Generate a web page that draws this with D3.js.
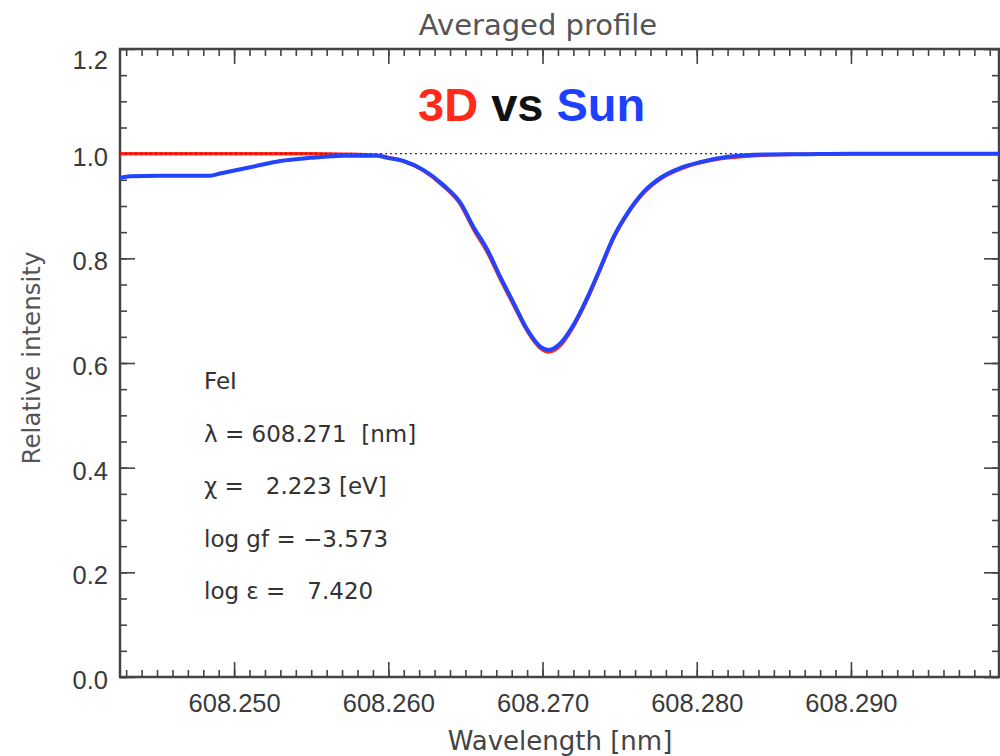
<!DOCTYPE html>
<html>
<head>
<meta charset="utf-8">
<script src="https://cdn.jsdelivr.net/npm/d3@7"></script>
<style>
  body { margin: 0; background: #fff; }
</style>
</head>
<body>
<script>

const w = 1000;
const h = 756;

// wavelength grid [nm]
const wavelength = [608.24260, 608.24325, 608.24519, 608.24844, 608.24909, 608.25104, 608.25299,
    608.25494, 608.25708, 608.25929, 608.25994, 608.26097, 608.26227, 608.26357, 608.26468,
    608.26552, 608.26643, 608.26727, 608.26812, 608.26903, 608.26987, 608.27039, 608.27117,
    608.27201, 608.27292, 608.27377, 608.27461, 608.27552, 608.27656, 608.27766, 608.27896,
    608.28026, 608.28201, 608.28370, 608.28675, 608.29000, 608.29968];

// observed solar profile (blue)
const sun = [0.954, 0.957, 0.958, 0.958, 0.962, 0.974, 0.986, 0.992, 0.996, 0.996, 0.992, 0.986,
    0.969, 0.940, 0.906, 0.860, 0.816, 0.764, 0.715, 0.663, 0.631, 0.625, 0.638, 0.673, 0.726,
    0.783, 0.841, 0.887, 0.927, 0.954, 0.973, 0.984, 0.994, 0.998, 0.999, 1.000, 1.000];

// 3D model profile (red)
const model3d = [1.000, 1.000, 1.000, 1.000, 1.000, 1.000, 1.000, 1.000, 0.999, 0.997, 0.993, 0.986,
    0.968, 0.938, 0.903, 0.856, 0.811, 0.760, 0.711, 0.660, 0.628, 0.621, 0.634, 0.670, 0.723,
    0.781, 0.839, 0.885, 0.925, 0.952, 0.971, 0.983, 0.992, 0.996, 0.999, 1.000, 1.000];

const xMajor = [608.250, 608.260, 608.270, 608.280, 608.290];
const yMajor = [0.0, 0.2, 0.4, 0.6, 0.8, 1.0, 1.2];

const lineInfo = ["FeI", "λ = 608.271  [nm]", "χ =   2.223 [eV]", "log gf = −3.573", "log ε =   7.420"];

const xDomain = [608.2426, 608.2996];
const yDomain = [0, 1.2];

const margin = { left: 120, top: 49, right: 1, bottom: 79 };

const baseFont = "DejaVu Sans, sans-serif";

let svg = d3.select("body")
    .append("svg")
    .attr("width", w)
    .attr("height", h)
    .style("font-family", baseFont)

var x = d3.scaleLinear().domain(xDomain).range([margin.left, w - margin.right]);
var y = d3.scaleLinear().domain(yDomain).range([h - margin.bottom, margin.top]);

// minor ticks every 0.001 nm and 0.05
var xMinor = d3.range(608.243, 608.2995, 0.001).map(v => +v.toFixed(3));
var yMinor = d3.range(0, 1.2001, 0.05).map(v => +v.toFixed(2));

var axisColor = "#444";

function styleAxis(g) {
    g.select(".domain").remove();
    g.selectAll("line").attr("stroke", axisColor).attr("stroke-width", 1.6);
    g.selectAll("text").attr("fill", "#3a3a3a").attr("font-size", 25.5).attr("font-family", null);
}

var yBot = y.range()[0], yTop = y.range()[1];

// bottom
svg.append("g").attr("transform", `translate(0,${yBot})`)
    .call(d3.axisBottom(x).tickValues(xMinor).tickSize(-7).tickFormat(""))
    .call(styleAxis);
svg.append("g").attr("transform", `translate(0,${yBot})`)
    .call(d3.axisBottom(x).tickValues(xMajor).tickSize(-15).tickPadding(17).tickFormat(d3.format(".3f")))
    .call(styleAxis);
// top
svg.append("g").attr("transform", `translate(0,${yTop})`)
    .call(d3.axisTop(x).tickValues(xMinor).tickSize(-7).tickFormat(""))
    .call(styleAxis);
svg.append("g").attr("transform", `translate(0,${yTop})`)
    .call(d3.axisTop(x).tickValues(xMajor).tickSize(-15).tickFormat(""))
    .call(styleAxis);
// left
svg.append("g").attr("transform", `translate(${margin.left},0)`)
    .call(d3.axisLeft(y).tickValues(yMinor).tickSize(-7).tickFormat(""))
    .call(styleAxis);
var yAx = svg.append("g").attr("transform", `translate(${margin.left},0)`)
    .call(d3.axisLeft(y).tickValues(yMajor).tickSize(-15).tickPadding(12).tickFormat(d3.format(".1f")))
    .call(styleAxis);
yAx.selectAll("text").attr("dy", (d) => d == 1.2 ? "0.75em" : "0.45em");
// right
svg.append("g").attr("transform", `translate(${w - margin.right},0)`)
    .call(d3.axisRight(y).tickValues(yMinor).tickSize(-7).tickFormat(""))
    .call(styleAxis);
svg.append("g").attr("transform", `translate(${w - margin.right},0)`)
    .call(d3.axisRight(y).tickValues(yMajor).tickSize(-15).tickFormat(""))
    .call(styleAxis);

// frame
svg.append("rect")
    .attr("x", margin.left)
    .attr("y", margin.top)
    .attr("width", w - margin.right - margin.left)
    .attr("height", h - margin.bottom - margin.top)
    .attr("fill", "none")
    .attr("stroke", axisColor)
    .attr("stroke-width", 2.5)

svg.append("defs").append("clipPath").attr("id", "plot")
    .append("rect")
    .attr("x", margin.left)
    .attr("y", margin.top)
    .attr("width", w - margin.right - margin.left)
    .attr("height", h - margin.bottom - margin.top)

var plot = svg.append("g").attr("clip-path", "url(#plot)");

var line = d3.line()
    .x(d => x(d[0]))
    .y(d => y(d[1]))
    .curve(d3.curveMonotoneX);

plot.append("path")
    .datum(wavelength.map((d, i) => [d, model3d[i]]))
    .attr("d", line)
    .attr("fill", "none")
    .attr("stroke", "#ff2a1a")
    .attr("stroke-width", 3.5)

// continuum level
plot.append("line")
    .attr("x1", x(xDomain[0]))
    .attr("x2", x(xDomain[1]))
    .attr("y1", y(1))
    .attr("y2", y(1))
    .attr("stroke", "#333")
    .attr("stroke-width", 1.3)
    .attr("stroke-dasharray", "2,3")

plot.append("path")
    .datum(wavelength.map((d, i) => [d, sun[i]]))
    .attr("d", line)
    .attr("fill", "none")
    .attr("stroke", "#2244ff")
    .attr("stroke-width", 4)

// title
svg.append("text")
    .attr("x", 538)
    .attr("y", 35)
    .attr("text-anchor", "middle")
    .attr("font-size", 29)
    .attr("fill", "#555")
    .text("Averaged profile")

var big = svg.append("text")
    .attr("x", 418)
    .attr("y", 121)
    .style("font-family", "'Liberation Sans', Arial, sans-serif")
    .attr("font-weight", "bold")
    .attr("font-size", 47)
big.append("tspan").attr("fill", "#ff2a1a").text("3D")
big.append("tspan").attr("fill", "#111").text(" vs ")
big.append("tspan").attr("fill", "#1f3fff").text("Sun")

// axis titles
svg.append("text")
    .attr("x", 560)
    .attr("y", 750)
    .attr("text-anchor", "middle")
    .attr("font-size", 26)
    .attr("fill", "#444")
    .text("Wavelength [nm]")

svg.append("text")
    .attr("transform", "translate(40,358) rotate(-90)")
    .attr("text-anchor", "middle")
    .attr("font-size", 24.5)
    .attr("fill", "#555")
    .text("Relative intensity")

// line data
svg.append("g")
    .selectAll("text")
    .data(lineInfo)
    .enter()
    .append("text")
    .attr("x", 204)
    .attr("y", (d, i) => 389 + i * 52.5)
    .attr("font-size", 23)
    .attr("fill", "#333")
    .style("white-space", "pre")
    .text(d => d)

</script>
</body>
</html>
